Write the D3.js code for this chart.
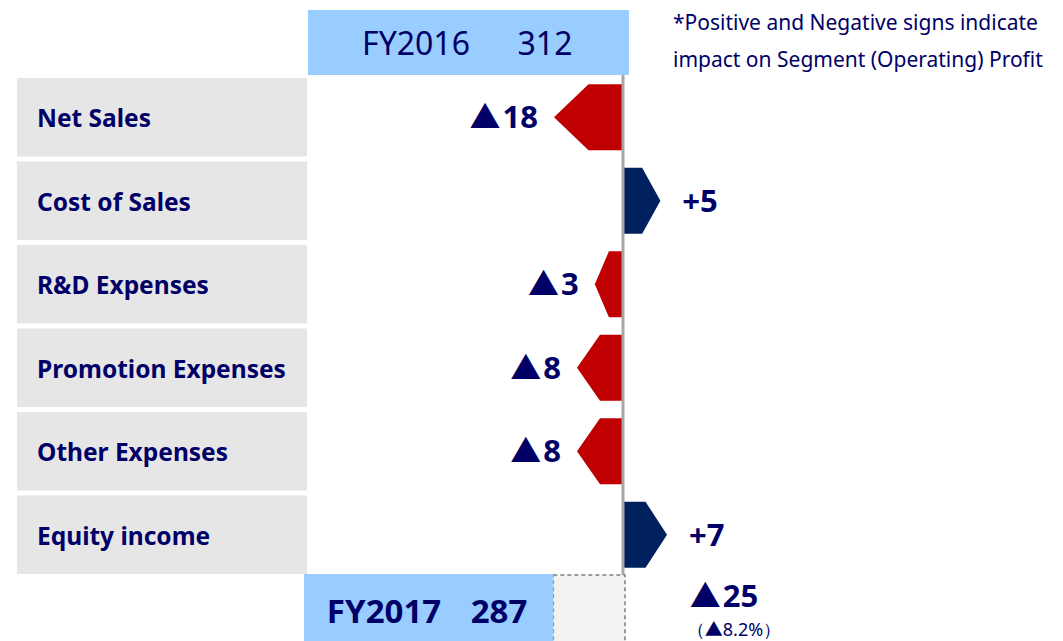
<!DOCTYPE html>
<html lang="en">
<head>
<meta charset="utf-8">
<title>Segment Profit Bridge FY2016 - FY2017</title>
<script src="https://cdnjs.cloudflare.com/ajax/libs/d3/7.7.0/d3.min.js"></script>
<style>
  body { margin: 0; background: #fff; }
  svg { display: block; font-family: "Noto Sans", "Open Sans", sans-serif; }
</style>
</head>
<body>
<div id="chart"></div>
<script>
// data
const categories = ["Net Sales", "Cost of Sales", "R&D Expenses", "Promotion Expenses", "Other Expenses", "Equity income"];
const impacts = [-18, 5, -3, -8, -8, 7];
const startLabel = "FY2016", startValue = 312;
const endLabel = "FY2017", endValue = 287;
const diffValue = -25, diffPct = -8.2;
const noteLines = ["*Positive and Negative signs indicate", "impact on Segment (Operating) Profit"];

const w = 1063, h = 641;
const navy = "#000066";
const tri = "\u25B2";
const cjk = "'Noto Sans CJK JP', sans-serif";

const svg = d3.select("#chart").append("svg")
  .attr("width", w).attr("height", h);

// rows
const y = d3.scaleBand()
  .domain(categories)
  .range([78, 574])
  .paddingInner(0.06)
  .paddingOuter(0.0);

const axisX = 623;
// arrows not linear in the original; sqrt fits well
const len = d3.scaleSqrt().domain([0, 18]).range([0, 69]);
// totals bar is a truncated linear axis
const tot = d3.scaleLinear().domain([200, 312]).range([304, 625]);

// writes a value with a wide triangle for negatives
function signed(sel, v) {
  if (v < 0) {
    sel.append("tspan").attr("font-family", cjk).text(tri);
    sel.append("tspan").attr("dx", 2).text(Math.abs(v));
  } else {
    sel.append("tspan").text("+" + v);
  }
}

// category boxes
svg.selectAll(".cat")
  .data(categories)
  .enter()
  .append("rect")
  .attr("class", "cat")
  .attr("x", 17)
  .attr("y", d => y(d))
  .attr("width", 290)
  .attr("height", y.bandwidth())
  .attr("fill", "#E6E6E6");

svg.selectAll(".catLabel")
  .data(categories)
  .enter()
  .append("text")
  .attr("x", 37)
  .attr("y", d => y(d) + y.bandwidth() / 2 + 10)
  .attr("font-size", 24.5)
  .attr("font-weight", "bold")
  .attr("fill", navy)
  .text(d => d);

// FY2016 header
svg.append("rect")
  .attr("x", tot(200) + 4).attr("y", 10)
  .attr("width", tot(startValue) - tot(200)).attr("height", 65)
  .attr("fill", "#99CCFF");
svg.append("text")
  .attr("x", 416).attr("y", 55)
  .attr("text-anchor", "middle")
  .attr("font-size", 32)
  .attr("fill", navy)
  .text(startLabel);
svg.append("text")
  .attr("x", 545).attr("y", 55)
  .attr("text-anchor", "middle")
  .attr("font-size", 32)
  .attr("fill", navy)
  .text(startValue);

// arrows
const barH = 66;
svg.selectAll(".arrow")
  .data(impacts)
  .enter()
  .append("path")
  .attr("d", (d, i) => {
    const cy = y(categories[i]) + y.bandwidth() / 2;
    const L = len(Math.abs(d));
    const s = d < 0 ? -1 : 1;
    const x0 = axisX + (d < 0 ? 0 : 1);
    const xm = x0 + s * L / 2, xt = x0 + s * L;
    return `M${x0},${cy - barH / 2}L${xm},${cy - barH / 2}L${xt},${cy}L${xm},${cy + barH / 2}L${x0},${cy + barH / 2}Z`;
  })
  .attr("fill", d => d < 0 ? "#C00000" : "#002060");

svg.selectAll(".val")
  .data(impacts)
  .enter()
  .append("text")
  .attr("x", d => d < 0 ? axisX - len(-d) - 16 : axisX + len(d) + 23)
  .attr("y", (d, i) => y(categories[i]) + y.bandwidth() / 2 + 11)
  .attr("text-anchor", d => d < 0 ? "end" : "start")
  .attr("font-size", 31)
  .attr("font-weight", "bold")
  .attr("fill", navy)
  .each(function (d) { signed(d3.select(this), d); });

// vertical axis line
svg.append("line")
  .attr("x1", axisX).attr("x2", axisX)
  .attr("y1", 75).attr("y2", 575)
  .attr("stroke", "#A6A6A6").attr("stroke-width", 3);

// FY2017 total with dashed gap
svg.append("rect")
  .attr("x", tot(endValue)).attr("y", 575)
  .attr("width", tot(startValue) - tot(endValue)).attr("height", 80)
  .attr("fill", "#F2F2F2")
  .attr("stroke", "#7F7F7F").attr("stroke-width", 1.5)
  .attr("stroke-dasharray", "4,3");
svg.append("rect")
  .attr("x", tot(200)).attr("y", 574)
  .attr("width", tot(endValue) - tot(200)).attr("height", 80)
  .attr("fill", "#99CCFF");
svg.append("text")
  .attr("x", 384).attr("y", 623)
  .attr("text-anchor", "middle")
  .attr("font-size", 33)
  .attr("font-weight", "bold")
  .attr("fill", navy)
  .text(endLabel);
svg.append("text")
  .attr("x", 499).attr("y", 623)
  .attr("text-anchor", "middle")
  .attr("font-size", 33)
  .attr("font-weight", "bold")
  .attr("fill", navy)
  .text(endValue);

// difference
svg.append("text")
  .attr("x", 724).attr("y", 607)
  .attr("text-anchor", "middle")
  .attr("font-size", 31)
  .attr("font-weight", "bold")
  .attr("fill", navy)
  .each(function () { signed(d3.select(this), diffValue); });
const pct = svg.append("text")
  .attr("x", 734).attr("y", 636)
  .attr("text-anchor", "middle")
  .attr("font-size", 18)
  .attr("fill", navy);
pct.append("tspan").text("\uFF08");
pct.append("tspan").attr("font-family", cjk).text(tri);
pct.append("tspan").text(Math.abs(diffPct) + "%\uFF09");

// note
svg.selectAll(".note")
  .data(noteLines)
  .enter()
  .append("text")
  .attr("x", 673)
  .attr("y", (d, i) => 30 + i * 37)
  .attr("font-size", 21)
  .attr("fill", navy)
  .text(d => d);
</script>
</body>
</html>
